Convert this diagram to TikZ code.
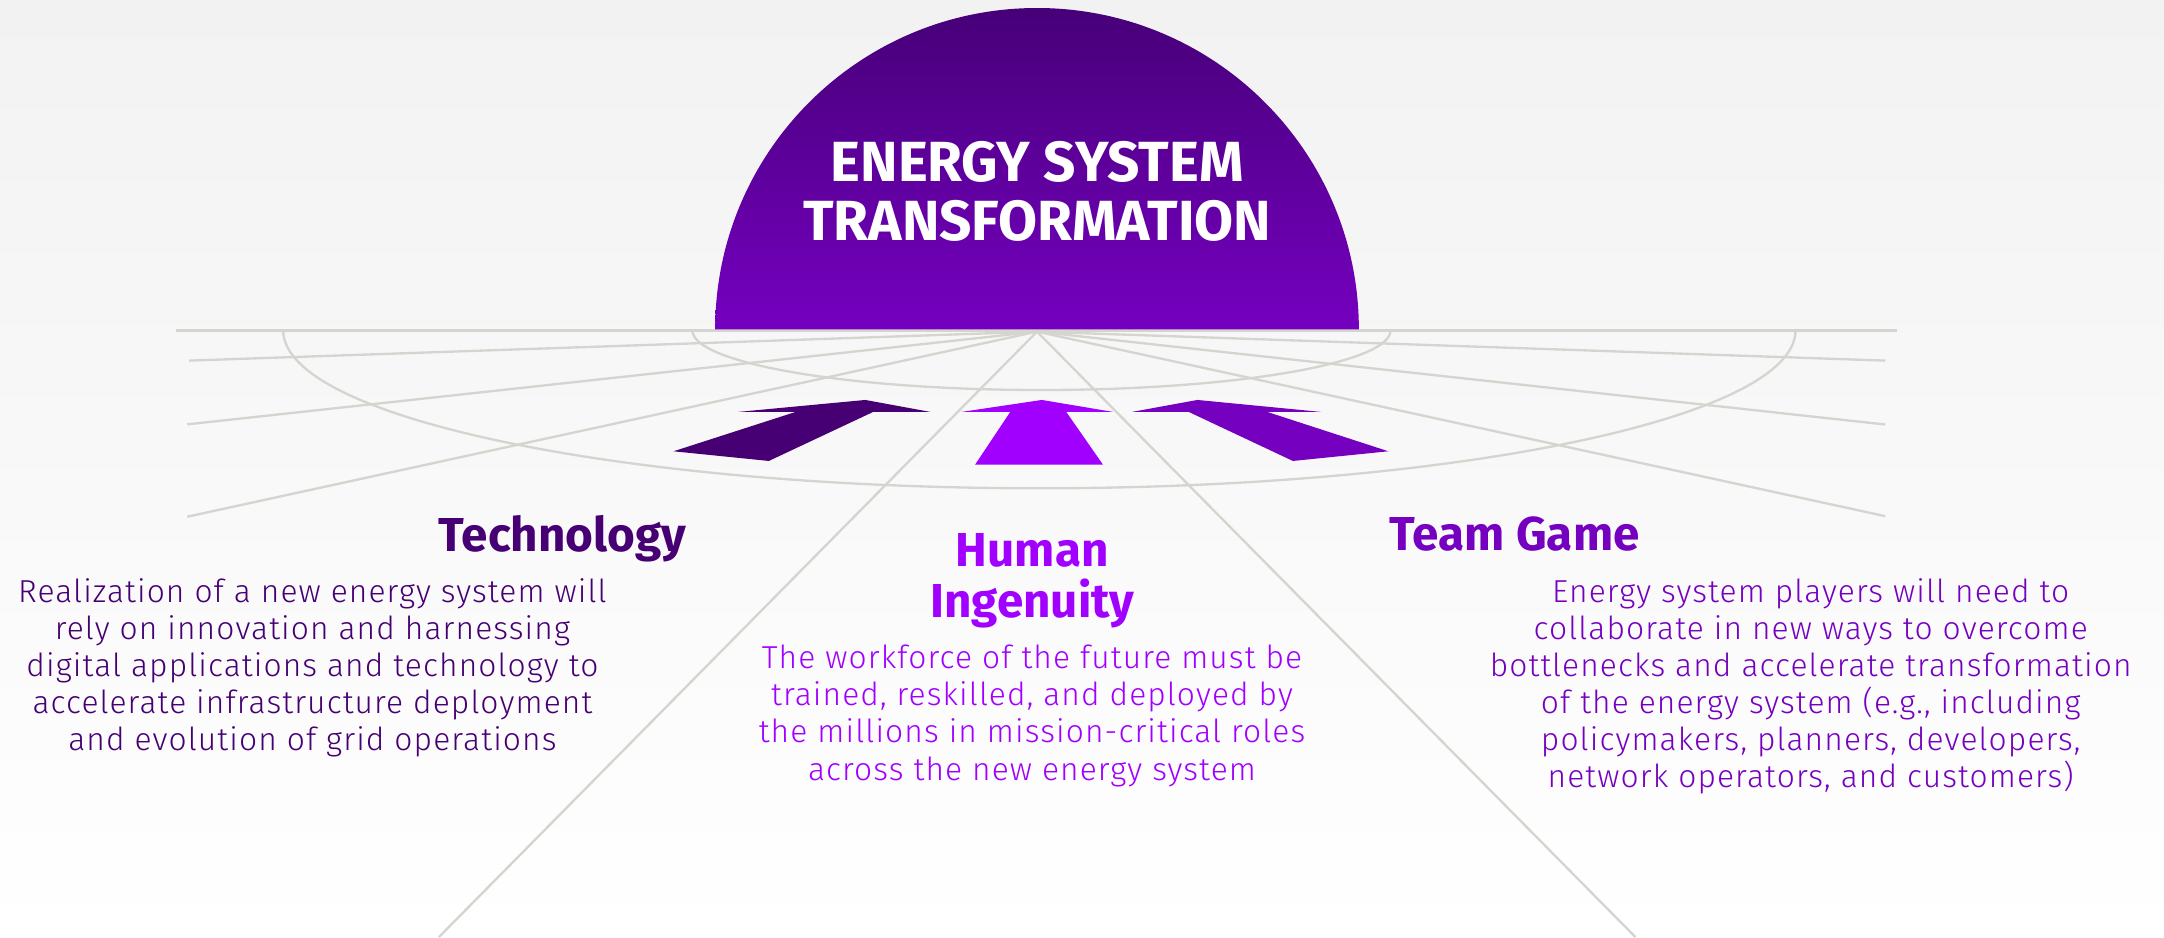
\documentclass[tikz,border=0pt]{standalone}
\usepackage{fontspec}
\setmainfont{Fira Sans}
\newfontfamily\bodyfont{Fira Sans Light}[LetterSpace=3.5]
\newfontfamily\headfont{Fira Sans}
\definecolor{techc}{HTML}{460073}
\definecolor{humc}{HTML}{A100FF}
\definecolor{teamc}{HTML}{7500C0}
\definecolor{gridc}{HTML}{D5D5D0}
\definecolor{bgtop}{HTML}{F2F2F2}
\definecolor{dometop}{HTML}{470078}
\begin{document}
\begin{tikzpicture}[x=1pt,y=1pt,
  grid/.style={draw=gridc,line width=1.7pt},
  headtxt/.style={font=\fontsize{34.5}{36.7}\selectfont\headfont\bfseries, inner sep=0pt, align=center},
  titletxt/.style={font=\fontsize{41}{42.3}\selectfont\headfont\bfseries, inner sep=0pt, align=center, text=white},
  bodytxt/.style={font=\fontsize{23}{26.9}\selectfont\bodyfont, inner sep=0pt, align=center, anchor=north}]
\useasboundingbox (0,0) rectangle (1568,-679);
\shade[top color=bgtop,bottom color=white] (0,0) rectangle (1568,-679);
% perspective grid
\coordinate (F) at (751.4,-240.3);
\coordinate (HL) at (127.4,-239.4);
\coordinate (HR) at (1374.8,-239.4);
\coordinate (L1) at (137,-261.3);
\coordinate (L2) at (135.7,-307.5);
\coordinate (L3) at (135.7,-374.4);
\coordinate (L4) at (318,-679);
\coordinate (R1) at (1366,-261.3);
\coordinate (R2) at (1366,-307.6);
\coordinate (R3) at (1366,-374);
\coordinate (R4) at (1185,-679);
\draw[grid] (HL) -- (HR);
\foreach \p in {L1,L2,L3,L4,R1,R2,R3,R4} \draw[grid] (F) -- (\p);
\draw[grid] (501.7,-239.4) arc[start angle=180,end angle=360,x radius=252.9,y radius=43.2];
\draw[grid] (205.2,-239.4) arc[start angle=180,end angle=360,x radius=547.9,y radius=114.4];
% dome
\shade[top color=dometop,bottom color=teamc] (518.2,-238.6) arc[start angle=180,end angle=0,x radius=233.2,y radius=232.8] -- cycle;
% arrows
\fill[techc] (534.6,-298.5) -- (627,-289.8) -- (674.3,-298.5) -- (632.6,-298.5) -- (557.1,-334) -- (488,-327) -- (576.4,-298.5) -- cycle;
\fill[humc] (754.9,-289.8) -- (806.7,-298.5) -- (772.6,-298.5) -- (799.2,-336.7) -- (706.5,-336.7) -- (732,-298.5) -- (696.5,-298.5) -- cycle;
\fill[teamc] (820,-298.5) -- (867.6,-289.8) -- (957.5,-298.5) -- (918.3,-298.5) -- (1006,-327) -- (936.8,-334) -- (861.4,-298.5) -- cycle;
% texts
\node[titletxt, anchor=north] (title) at (751.5,-101.6) {\rule{0pt}{30pt}ENERGY SYSTEM\\TRANSFORMATION};
\node[headtxt, text=techc, anchor=base] (tech) at (407.6,-399.7) {Technology};
\node[headtxt, text=humc, anchor=north] (hum) at (748,-384.6) {\rule{0pt}{26pt}Human\\Ingenuity};
\node[headtxt, text=teamc, anchor=base] (team) at (1097.5,-399) {Team Game};
\node[bodytxt, text=techc] (techb) at (226.4,-418) {\rule{0pt}{18pt}Realization of a new energy system will\\rely on innovation and harnessing\\digital applications and technology to\\accelerate infrastructure deployment\\and evolution of grid operations};
\node[bodytxt, text=humc] (humb) at (747.8,-466.3) {\rule{0pt}{18pt}The workforce of the future must be\\trained, reskilled, and deployed by\\the millions in mission-critical roles\\across the new energy system};
\node[bodytxt, text=teamc] (teamb) at (1312,-418) {\rule{0pt}{18pt}Energy system players will need to\\collaborate in new ways to overcome\\bottlenecks and accelerate transformation\\of the energy system (e.g., including\\policymakers, planners, developers,\\network operators, and customers)};
\end{tikzpicture}
\end{document}
